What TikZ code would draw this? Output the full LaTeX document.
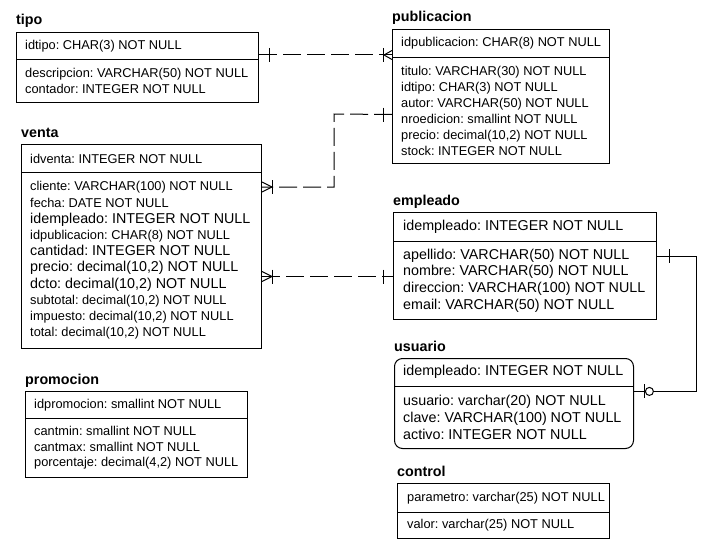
\documentclass[tikz,border=0pt]{standalone}
\usepackage{fontspec}
\setmainfont{Liberation Sans}
\usetikzlibrary{calc}
\newcommand\smtxt{\fontsize{12.8}{16}\selectfont}
\newcommand\bgtxt{\fontsize{14.3}{16.7}\selectfont}
\newcommand\bgin{\fontsize{14.3}{16.2}\selectfont}
\newcommand\mxtxt{\fontsize{12.8}{16.2}\selectfont}
\frenchspacing
\begin{document}
\frenchspacing
\begin{tikzpicture}[x=1pt,y=-1pt,
  box/.style={draw, line width=1pt, inner sep=0pt, anchor=north west},
  plain/.style={inner sep=0pt, anchor=north west},
  txt/.style={inner sep=0pt, anchor=west, align=left},
  ttl/.style={inner sep=0pt, anchor=base west, font=\bfseries\fontsize{14.3}{16}\selectfont},
  rel/.style={line width=1pt, dash pattern=on 18pt off 6pt},
  mk/.style={line width=1pt}]
\useasboundingbox[fill=white] (0,0) rectangle (709,551);

% ---------- tipo
\node[ttl] (tipoT) at (16,25) {tipo};
\node[box, minimum width=242pt, minimum height=27pt] (tipoK) at (16,32) {};
\node[box, minimum width=242pt, minimum height=43pt] (tipoB) at (16,59) {};
\node[txt, font=\smtxt] (tipoKt) at ([xshift=9pt]tipoK.west) {idtipo: CHAR(3) NOT NULL};
\node[txt, font=\smtxt] (tipoBt) at ([xshift=9pt]tipoB.west) {descripcion: VARCHAR(50) NOT NULL\\contador: INTEGER NOT NULL};

% ---------- publicacion
\node[ttl] (pubT) at (392,22) {publicacion};
\node[box, minimum width=217pt, minimum height=28pt] (pubK) at (392,29) {};
\node[box, minimum width=217pt, minimum height=106pt] (pubB) at (392,57) {};
\node[txt, font=\smtxt] (pubKt) at ([xshift=9pt]pubK.west) {idpublicacion: CHAR(8) NOT NULL};
\node[txt, font=\smtxt] (pubBt) at ([xshift=9pt]pubB.west) {titulo: VARCHAR(30) NOT NULL\\idtipo: CHAR(3) NOT NULL\\autor: VARCHAR(50) NOT NULL\\nroedicion: smallint NOT NULL\\precio: decimal(10,2) NOT NULL\\stock: INTEGER NOT NULL};

% ---------- venta
\node[ttl] (venT) at (21,137) {venta};
\node[box, minimum width=240pt, minimum height=28pt] (venK) at (21,144) {};
\node[box, minimum width=240pt, minimum height=176pt] (venB) at (21,172) {};
\node[txt, font=\smtxt] (venKt) at ([xshift=9pt]venK.west) {idventa: INTEGER NOT NULL};
\node[txt, font=\mxtxt] (venBt) at ([xshift=9pt]venB.west) {cliente: VARCHAR(100) NOT NULL\\fecha: DATE NOT NULL\\{\bgin idempleado: INTEGER NOT NULL}\\idpublicacion: CHAR(8) NOT NULL\\{\bgin cantidad: INTEGER NOT NULL}\\{\bgin precio: decimal(10,2) NOT NULL}\\{\bgin dcto: decimal(10,2) NOT NULL}\\subtotal: decimal(10,2) NOT NULL\\impuesto: decimal(10,2) NOT NULL\\total: decimal(10,2) NOT NULL};

% ---------- empleado
\node[ttl] (empT) at (393,205) {empleado};
\node[box, minimum width=263pt, minimum height=29pt] (empK) at (393,212) {};
\node[box, minimum width=263pt, minimum height=78pt] (empB) at (393,241) {};
\node[txt, font=\bgtxt] (empKt) at ([xshift=10pt]empK.west) {idempleado: INTEGER NOT NULL};
\node[txt, font=\bgtxt] (empBt) at ([xshift=10pt]empB.west) {apellido: VARCHAR(50) NOT NULL\\nombre: VARCHAR(50) NOT NULL\\direccion: VARCHAR(100) NOT NULL\\email: VARCHAR(50) NOT NULL};

% ---------- usuario
\node[ttl] (usrT) at (394,351) {usuario};
\node[box, rounded corners=8pt, minimum width=239pt, minimum height=90pt] (usr) at (394,358) {};
\node[plain, minimum width=239pt, minimum height=28pt] (usrK) at (394,358) {};
\node[plain, minimum width=239pt, minimum height=62pt] (usrB) at (394,386) {};
\draw[mk] (usrK.south west) -- (usrK.south east);
\node[txt, font=\bgtxt] (usrKt) at ([xshift=9pt]usrK.west) {idempleado: INTEGER NOT NULL};
\node[txt, font=\fontsize{14.3}{17}\selectfont] (usrBt) at ([xshift=9pt]usrB.west) {usuario: varchar(20) NOT NULL\\clave: VARCHAR(100) NOT NULL\\activo: INTEGER NOT NULL};

% ---------- control
\node[ttl] (ctlT) at (397,476) {control};
\node[box, minimum width=212pt, minimum height=29pt] (ctlK) at (397,483) {};
\node[box, minimum width=212pt, minimum height=26pt] (ctlB) at (397,512) {};
\node[txt, font=\smtxt] (ctlKt) at ([xshift=10pt]ctlK.west) {parametro: varchar(25) NOT NULL};
\node[txt, font=\smtxt] (ctlBt) at ([xshift=10pt]ctlB.west) {valor: varchar(25) NOT NULL};

% ---------- promocion
\node[ttl] (proT) at (25,384) {promocion};
\node[box, minimum width=222pt, minimum height=27pt] (proK) at (25,391) {};
\node[box, minimum width=222pt, minimum height=59pt] (proB) at (25,418) {};
\node[txt, font=\smtxt] (proKt) at ([xshift=9pt]proK.west) {idpromocion: smallint NOT NULL};
\node[txt, font=\fontsize{12.8}{15.5}\selectfont] (proBt) at ([xshift=9pt]proB.west) {cantmin: smallint NOT NULL\\cantmax: smallint NOT NULL\\porcentaje: decimal(4,2) NOT NULL};

% ---------- tipo -- publicacion
\coordinate (c1s) at ([yshift=5pt]tipoK.south east);
\coordinate (c1e) at (c1s -| pubK.west);
\draw[rel] (c1s) -- (c1e);
\draw[mk] ([xshift=10pt]c1s) ++(0,-7) -- ++(0,14);
\draw[mk] ([xshift=-9pt]c1e) ++(0,-7) -- ++(0,14);
\draw[mk] ([yshift=4.5pt]c1e) -- ([xshift=-8pt]c1e) -- ([yshift=-4.5pt]c1e);

% ---------- publicacion -- venta
\coordinate (c2s) at ([yshift=-4pt]pubB.west);
\coordinate (c2k) at (334,114);
\coordinate (c2e) at ([yshift=-15pt]venB.north east);
\draw[rel] (c2s) -- (c2k) |- (c2e);
\draw[mk] ([xshift=-9pt]c2s) ++(0,-7) -- ++(0,14);
\draw[mk] ([xshift=10pt]c2e) ++(0,-7) -- ++(0,14);
\draw[mk] ([yshift=5pt]c2e) -- ([xshift=10pt]c2e) -- ([yshift=-5pt]c2e);

% ---------- venta -- empleado
\coordinate (c3s) at ([yshift=-16pt]venB.east);
\coordinate (c3e) at (c3s -| empB.west);
\draw[rel] (c3s) -- (c3e);
\draw[mk] ([xshift=10pt]c3s) ++(0,-7) -- ++(0,14);
\draw[mk] ([yshift=5pt]c3s) -- ([xshift=10pt]c3s) -- ([yshift=-5pt]c3s);
\draw[mk] ([xshift=-10pt]c3e) ++(0,-7) -- ++(0,14);

% ---------- empleado -- usuario
\coordinate (c4s) at ([yshift=-15pt]empB.north east);
\coordinate (c4e) at ([yshift=-5pt]usrK.south east);
\coordinate (c4k) at (696,256);
\draw[mk] (c4s) -- (c4k) |- (c4e);
\draw[mk] ([xshift=12pt]c4s) ++(0,-7) -- ++(0,14);
\draw[mk] ([xshift=11pt]c4e) ++(0,-7) -- ++(0,14);
\draw[mk, fill=white] ([xshift=16pt]c4e) circle[radius=4pt];
\end{tikzpicture}
\end{document}
